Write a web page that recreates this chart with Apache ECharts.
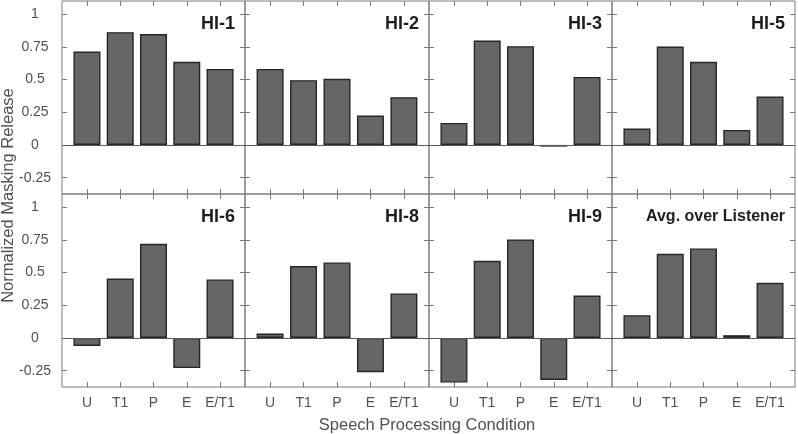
<!DOCTYPE html>
<html>
<head>
<meta charset="utf-8">
<script src="https://cdn.jsdelivr.net/npm/echarts@6/dist/echarts.min.js"></script>
<style>
html,body{margin:0;padding:0;background:#fff;}
#chart{width:798px;height:434px;}
</style>
</head>
<body>
<div id="chart"></div>
<script>
// ---- data ----
const categories = ['U', 'T1', 'P', 'E', 'E/T1'];
const panelTitles = ['HI-1', 'HI-2', 'HI-3', 'HI-5', 'HI-6', 'HI-8', 'HI-9', 'Avg. over Listener'];
const hi1 = [0.714, 0.862, 0.847, 0.635, 0.581];
const hi2 = [0.581, 0.495, 0.505, 0.224, 0.365];
const hi3 = [0.168, 0.798, 0.755, -0.013, 0.520];
const hi5 = [0.125, 0.752, 0.635, 0.115, 0.370];
const hi6 = [-0.061, 0.454, 0.719, -0.230, 0.447];
const hi8 = [0.034, 0.549, 0.577, -0.262, 0.340];
const hi9 = [-0.341, 0.589, 0.753, -0.321, 0.324];
const avg = [0.174, 0.643, 0.684, 0.021, 0.421];
const yTicks = [-0.25, 0, 0.25, 0.5, 0.75, 1];
const xTicks = [1, 2, 3, 4, 5];
const panelValues = [hi1, hi2, hi3, hi5, hi6, hi8, hi9, avg];
const xTitle = 'Speech Processing Condition';
const yTitle = 'Normalized Masking Release';

// ---- layout / style ----
const colEdges = [62, 245, 429, 612, 795];
const rowEdges = [1, 194, 387];
const FONT = '"Liberation Sans", Arial, Helvetica, sans-serif';
const boxColor = '#7a7a7a';
const textColor = '#505050';

const grids = [], xAxes = [], yAxes = [], series = [], graphics = [];
panelValues.forEach((vals, i) => {
  const r = Math.floor(i / 4), c = i % 4;
  const left = colEdges[c], right = colEdges[c + 1];
  const top = rowEdges[r], bottom = rowEdges[r + 1];
  grids.push({
    left: left, top: top, width: right - left, height: bottom - top,
    show: true, borderColor: boxColor, borderWidth: 1, backgroundColor: 'transparent'
  });
  const tick = { show: true, inside: true, length: 5, lineStyle: { color: boxColor, width: 1 } };
  const noLine = { show: false, onZero: false };
  // bottom x
  xAxes.push({
    type: 'value', gridIndex: i, position: 'bottom', min: 0.25, max: 5.75,
    axisLine: noLine, splitLine: { show: false },
    axisTick: Object.assign({ customValues: xTicks }, tick),
    axisLabel: {
      show: r === 1, customValues: xTicks, margin: 9,
      formatter: v => categories[Math.round(v) - 1] || '',
      color: textColor, fontSize: 14, fontFamily: FONT
    }
  });
  // top x
  xAxes.push({
    type: 'value', gridIndex: i, position: 'top', min: 0.25, max: 5.75,
    axisLine: noLine, splitLine: { show: false },
    axisTick: Object.assign({ customValues: xTicks }, tick),
    axisLabel: { show: false }
  });
  // left y
  yAxes.push({
    type: 'value', gridIndex: i, position: 'left', min: -0.375, max: 1.1,
    axisLine: noLine, splitLine: { show: false },
    axisTick: Object.assign({ customValues: yTicks }, tick),
    axisLabel: {
      show: c === 0, customValues: yTicks, margin: 27, align: 'center',
      color: textColor, fontSize: 14, fontFamily: FONT
    }
  });
  // right y
  yAxes.push({
    type: 'value', gridIndex: i, position: 'right', min: -0.375, max: 1.1,
    axisLine: noLine, splitLine: { show: false },
    axisTick: Object.assign({ customValues: yTicks }, tick),
    axisLabel: { show: false }
  });
  series.push({
    type: 'bar', xAxisIndex: 2 * i, yAxisIndex: 2 * i,
    data: vals.map((v, k) => [k + 1, v]),
    barWidth: 27,
    itemStyle: { color: '#666666', borderColor: '#262626', borderWidth: 1.4 },
    markLine: {
      silent: true, symbol: 'none', label: { show: false },
      lineStyle: { color: '#5a5a5a', width: 1, type: 'solid' },
      data: [{ yAxis: 0 }]
    }
  });
  const isAvg = i === 7;
  graphics.push({
    type: 'text', x: right - 10, y: top + 23, z: 10,
    style: {
      text: panelTitles[i], fill: '#1e1e1e', align: 'right', verticalAlign: 'middle',
      font: 'bold ' + (isAvg ? 16 : 18) + 'px ' + FONT
    }
  });
});

graphics.push({
  type: 'text', x: 427, y: 425,
  style: { text: xTitle, fill: textColor, align: 'center', verticalAlign: 'middle', font: '16.5px ' + FONT }
});
graphics.push({
  type: 'text', x: 8, y: 195.5, rotation: Math.PI / 2,
  style: { text: yTitle, fill: textColor, align: 'center', verticalAlign: 'middle', font: '16.5px ' + FONT }
});

const chart = echarts.init(document.getElementById('chart'), null, { renderer: 'canvas' });
chart.setOption({
  animation: false,
  backgroundColor: '#ffffff',
  grid: grids, xAxis: xAxes, yAxis: yAxes, series: series, graphic: graphics
});
</script>
</body>
</html>
